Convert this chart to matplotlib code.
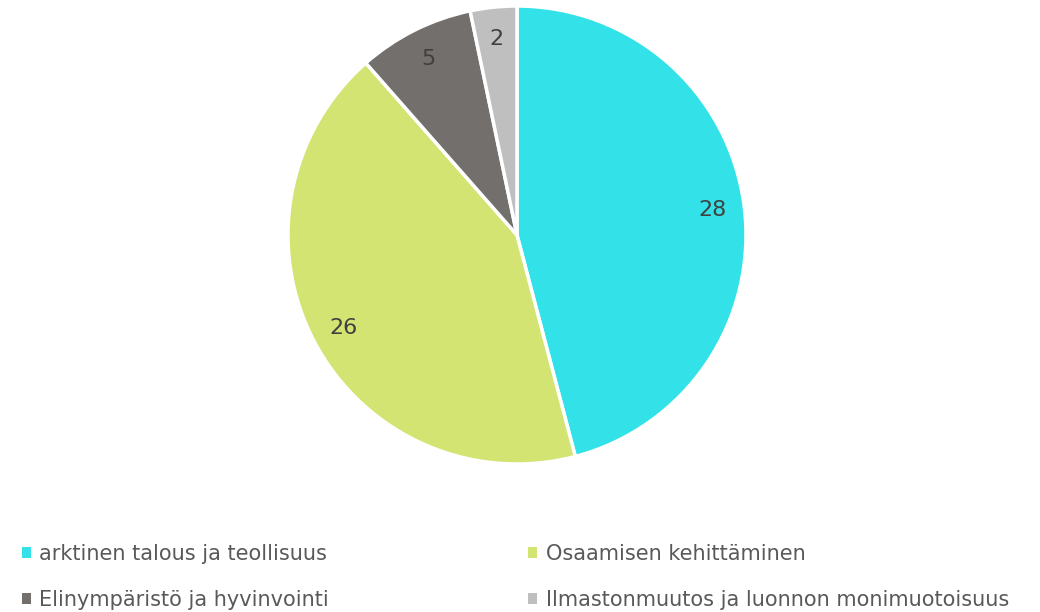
import matplotlib.pyplot as plt
from matplotlib.patches import Patch

# data ------------------------------
categories = ["arktinen talous ja teollisuus", "Osaamisen kehittäminen",
              "Elinympäristö ja hyvinvointi", "Ilmastonmuutos ja luonnon monimuotoisuus"]
values = [28, 26, 5, 2]
colors = ["#33E2E9", "#D3E473", "#736F6D", "#BFBFBF"]

plt.rcParams['font.family'] = ['DejaVu Sans']

fig = plt.figure(figsize=(10.4, 6.12), dpi=100)
ax = fig.add_axes([0.2769, 0.2418, 458 / 1040, 458 / 612])

wedges, texts, autotexts = ax.pie(
    values, colors=colors, startangle=90, counterclock=False,
    autopct=lambda p: "%d" % round(p * sum(values) / 100),
    pctdistance=0.86, radius=1,
    wedgeprops=dict(edgecolor="white", linewidth=2.5),
    textprops=dict(fontsize=16, color="#404040"))
ax.set_xlim(-1, 1)
ax.set_ylim(-1, 1)
ax.set_aspect("equal")

# legend -------------------------------
# order: row 1 = first two, row 2 = last two (matplotlib fills columns first)
order = [0, 2, 1, 3]
handles = [Patch(facecolor=colors[i], edgecolor="none") for i in order]
labels = [categories[i] for i in order]
fig.legend(handles, labels, loc="lower left", bbox_to_anchor=(0.003, -0.027),
           ncol=2, frameon=False, fontsize=15, labelcolor="#595959",
           handlelength=0.42, handleheight=0.42, handletextpad=0.42,
           columnspacing=9.55, labelspacing=1.25)

fig.savefig("out.png", dpi=100)
